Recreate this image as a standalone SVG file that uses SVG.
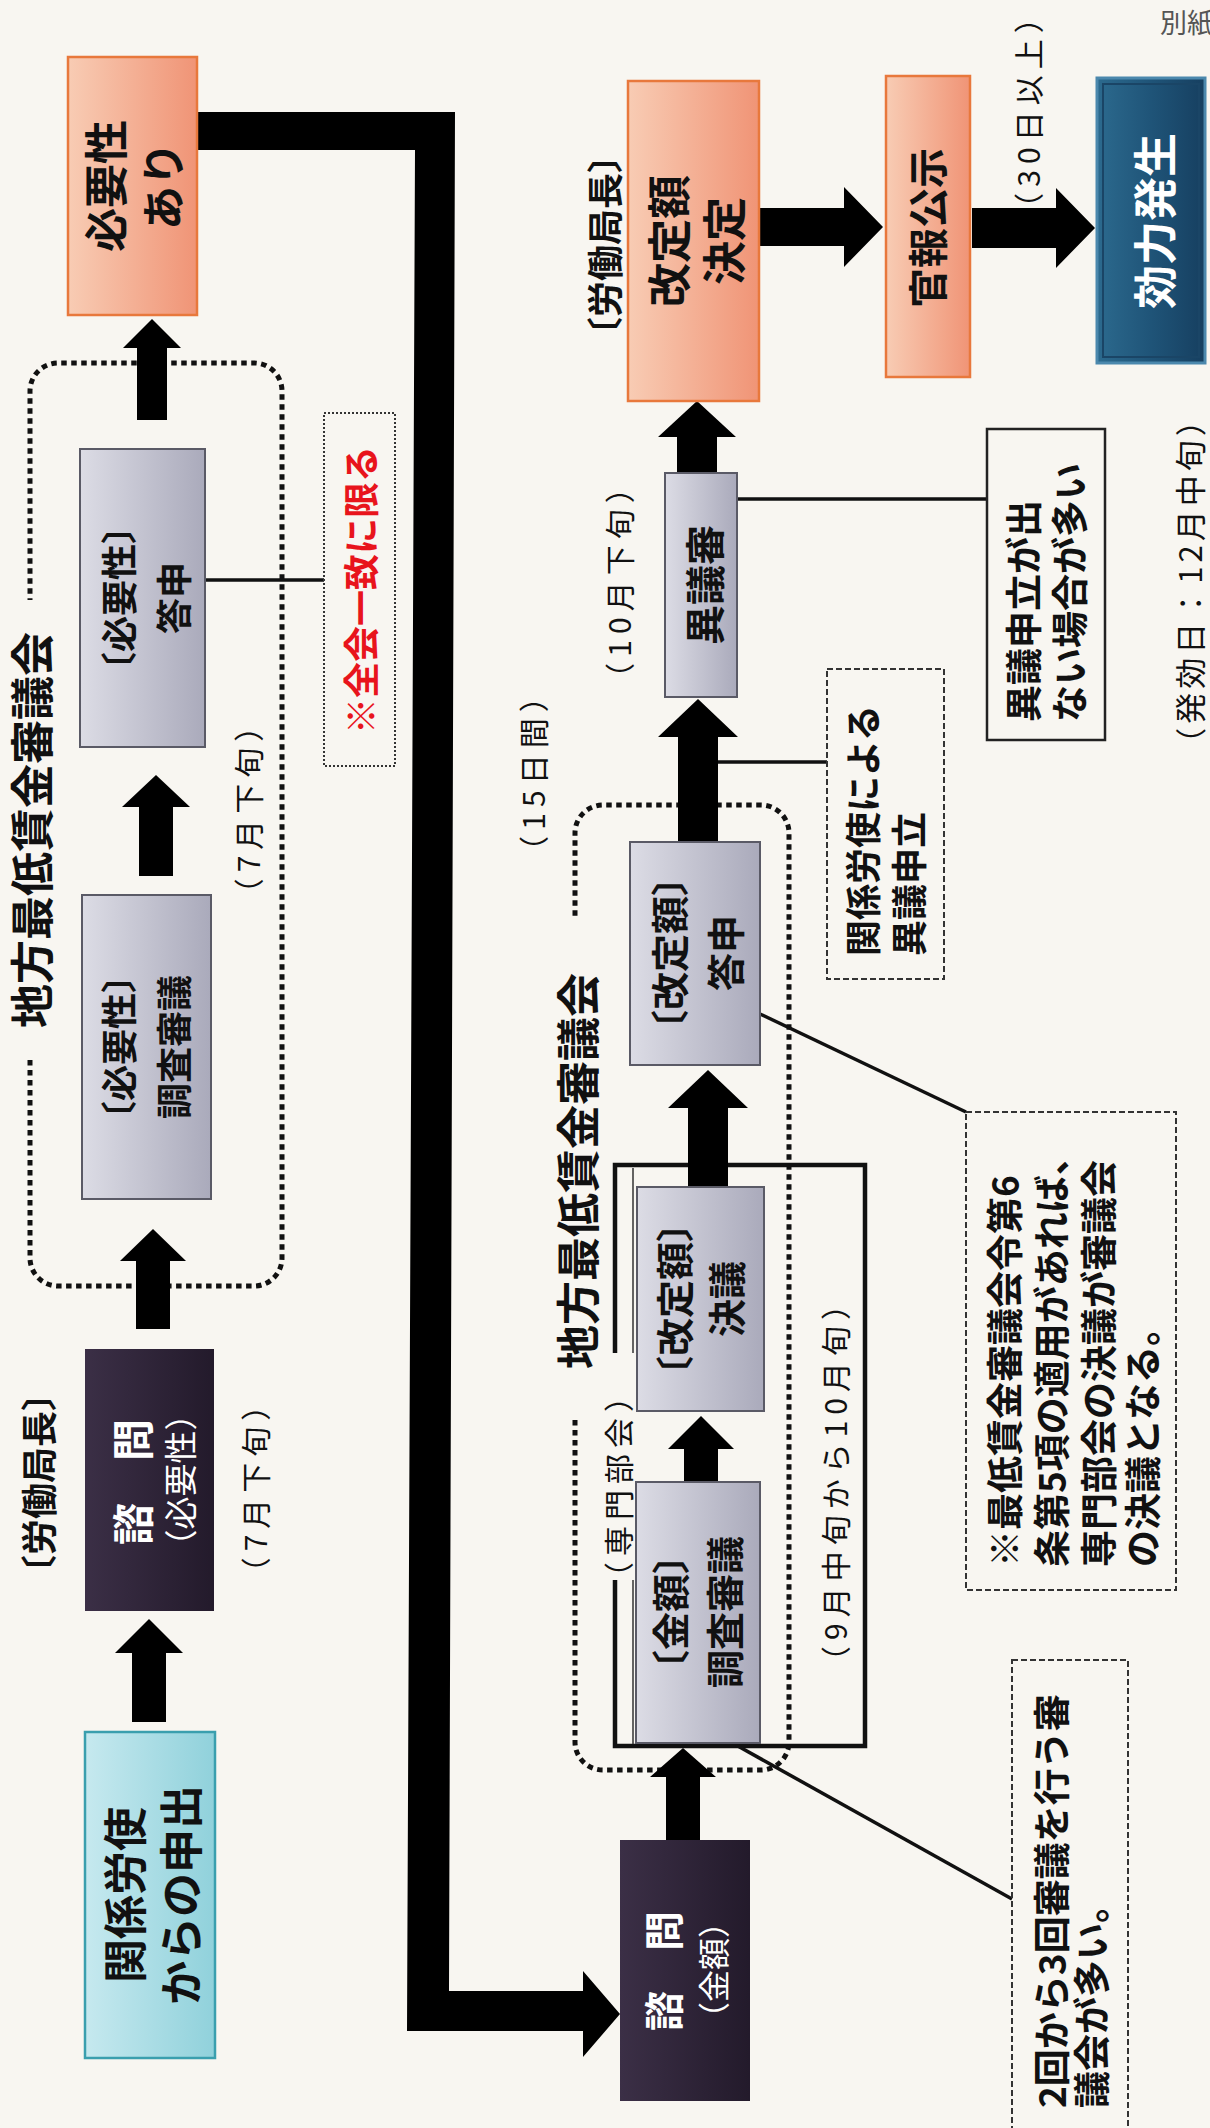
<svg xmlns="http://www.w3.org/2000/svg" width="1210" height="2128" viewBox="0 0 1210 2128">
<defs>
<linearGradient id="gOrange" x1="0" y1="0" x2="1" y2="0"><stop offset="0" stop-color="#f8ccb4"/><stop offset="1" stop-color="#f09476"/></linearGradient>
<linearGradient id="gGray" x1="0" y1="0" x2="1" y2="0"><stop offset="0" stop-color="#dcdce5"/><stop offset="1" stop-color="#aaaabb"/></linearGradient>
<linearGradient id="gPurple" x1="0" y1="0" x2="1" y2="0"><stop offset="0" stop-color="#3b2f46"/><stop offset="1" stop-color="#231a2b"/></linearGradient>
<linearGradient id="gCyan" x1="0" y1="0" x2="1" y2="0"><stop offset="0" stop-color="#c6e9ef"/><stop offset="1" stop-color="#90d1db"/></linearGradient>
<linearGradient id="gBlue" x1="0" y1="0" x2="1" y2="0"><stop offset="0" stop-color="#2c6a8e"/><stop offset="0.5" stop-color="#1f5478"/><stop offset="1" stop-color="#163f60"/></linearGradient>
</defs>
<style>
text{font-family:"Noto Sans CJK JP","Noto Sans CJK SC",sans-serif;fill:#111}
.c{text-anchor:middle;dominant-baseline:central}
.s{text-anchor:start;dominant-baseline:central}
.b{font-weight:bold}
.lab{font-size:44px;font-weight:bold}
.mid{font-size:38px;font-weight:bold}
.sm{font-size:30px;letter-spacing:6px}
.w{fill:#fff}
.orange{fill:url(#gOrange);stroke:#e8783c;stroke-width:2.5}
.gray{fill:url(#gGray);stroke:#5a5a66;stroke-width:2}
.purple{fill:url(#gPurple)}
.dots{fill:none;stroke:#111;stroke-width:5;stroke-dasharray:5.5 4.5}
.dash{fill:none;stroke:#333;stroke-width:2;stroke-dasharray:6 3}
.fine{fill:none;stroke:#333;stroke-width:2;stroke-dasharray:2 2}
.ln{fill:none;stroke:#111;stroke-width:3.5}
.arr{fill:#000}
</style>
<rect x="0" y="0" width="1210" height="2128" fill="#f8f6f1"/>

<g id="groups">
<path class="dots" d="M30,1060 V1258 A28,28 0 0 0 58,1286 H254 A28,28 0 0 0 282,1258 V391 A28,28 0 0 0 254,363 H58 A28,28 0 0 0 30,391 V600"/>
<text class="c" style="font-size:44px;font-weight:bold" transform="translate(30,830) rotate(-90)">地方最低賃金審議会</text>
<path class="dots" d="M575,1420 V1742 A28,28 0 0 0 603,1770 H761 A28,28 0 0 0 789,1742 V833 A28,28 0 0 0 761,805 H603 A28,28 0 0 0 575,833 V917"/>
<text class="c" style="font-size:44px;font-weight:bold" transform="translate(576,1171) rotate(-90)">地方最低賃金審議会</text>
<path fill="none" stroke="#111" stroke-width="4.5" d="M615,1353 V1165 H865 V1746 H615 V1580"/>
<path fill="none" stroke="#333" stroke-width="1.5" d="M633,1353 V1168 M633,1580 V1744"/>
<text class="c sm" transform="translate(617,1484) rotate(-90)">（専門部会）</text>
</g>

<g id="connectors">
<polygon class="arr" points="197,112 455,112 449,1991 583,1991 583,1971 620,2014 583,2057 583,2031 407,2031 415,150 197,150"/>
<polygon class="arr" points="132,1722 132,1653 115,1653 149,1619 183,1653 166,1653 166,1722"/>
<polygon class="arr" points="136,1329 136,1261 120,1261 153,1229 186,1261 170,1261 170,1329"/>
<polygon class="arr" points="139,876 139,807 122,807 156,775 190,807 173,807 173,876"/>
<polygon class="arr" points="137,420 137,348 123,348 152,319 181,348 167,348 167,420"/>
<polygon class="arr" points="666,1840 666,1777 650,1777 683,1748 716,1777 700,1777 700,1840"/>
<polygon class="arr" points="684,1483 684,1449 668,1449 701,1416 734,1449 718,1449 718,1483"/>
<polygon class="arr" points="688,1187 688,1108 668,1108 708,1070 748,1108 728,1108 728,1187"/>
<polygon class="arr" points="678,842 678,737 658,737 698,699 738,737 718,737 718,842"/>
<polygon class="arr" points="677,474 677,437 658,437 697,401 736,437 717,437 717,474"/>
<polygon class="arr" points="759,208 844,208 844,187 883,227 844,267 844,246 759,246"/>
<polygon class="arr" points="972,208 1056,208 1056,188 1095,228 1056,268 1056,248 972,248"/>
<line class="ln" x1="205" y1="580" x2="324" y2="580"/>
<line class="ln" x1="718" y1="762" x2="827" y2="762"/>
<line class="ln" x1="737" y1="499" x2="987" y2="499"/>
<line class="ln" x1="758" y1="1013" x2="966" y2="1112"/>
<line class="ln" x1="736" y1="1745" x2="1012" y2="1899"/>
</g>

<g id="n-roudou1"><text class="c b" style="font-size:36px" transform="translate(37,1483) rotate(-90)">〔労働局長〕</text></g>

<g id="n-moushide">
<rect x="85" y="1732" width="130" height="326" fill="url(#gCyan)" stroke="#3a9fae" stroke-width="2.5"/>
<text class="c lab" transform="translate(123,1895) rotate(-90)">関係労使</text>
<text class="c lab" transform="translate(179,1895) rotate(-90)">からの申出</text>
</g>

<g id="n-shimon1">
<rect class="purple" x="85" y="1349" width="129" height="262"/>
<text class="c w" style="font-size:42px;font-weight:bold" transform="translate(130,1482) rotate(-90)">諮　問</text>
<text class="c w" style="font-size:33px" transform="translate(179,1480) rotate(-90)">（必要性）</text>
</g>
<g id="t-jul1"><text class="c sm" transform="translate(254,1486) rotate(-90)">（7月下旬）</text></g>

<g id="n-chousa1">
<rect class="gray" x="82" y="895" width="129" height="304"/>
<text class="c b" style="font-size:36px" transform="translate(117,1047) rotate(-90)">〔必要性〕</text>
<text class="c b" style="font-size:36px" transform="translate(172,1047) rotate(-90)">調査審議</text>
</g>
<g id="t-jul2"><text class="c sm" transform="translate(247,807) rotate(-90)">（7月下旬）</text></g>

<g id="n-toushin1">
<rect class="gray" x="80" y="449" width="125" height="298"/>
<text class="c b" style="font-size:36px" transform="translate(117,598) rotate(-90)">〔必要性〕</text>
<text class="c b" style="font-size:36px" transform="translate(172,598) rotate(-90)">答申</text>
</g>

<g id="n-zenkai">
<rect class="fine" x="324" y="413" width="71" height="353"/>
<text class="c b" style="font-size:36px;fill:#e8141c" transform="translate(359,590) rotate(-90)">※全会一致に限る</text>
</g>

<g id="n-hitsuyou">
<rect class="orange" x="68" y="57" width="129" height="258"/>
<text class="c lab" transform="translate(104,186) rotate(-90)">必要性</text>
<text class="c lab" transform="translate(161,186) rotate(-90)">あり</text>
</g>

<g id="n-shimon2">
<rect class="purple" x="620" y="1840" width="130" height="261"/>
<text class="c w" style="font-size:40px;font-weight:bold" transform="translate(662,1971) rotate(-90)">諮　問</text>
<text class="c w" style="font-size:32px" transform="translate(712,1970) rotate(-90)">（金額）</text>
</g>

<g id="n-chousa2">
<rect class="gray" x="636" y="1482" width="124" height="261"/>
<text class="c mid" transform="translate(668,1612) rotate(-90)">〔金額〕</text>
<text class="c mid" transform="translate(722,1612) rotate(-90)">調査審議</text>
</g>
<g id="t-sep"><text class="c sm" transform="translate(834,1480) rotate(-90)">（9月中旬から10月旬）</text></g>

<g id="n-ketsugi">
<rect class="gray" x="637" y="1187" width="127" height="224"/>
<text class="c mid" transform="translate(672,1299) rotate(-90)">〔改定額〕</text>
<text class="c mid" transform="translate(724,1299) rotate(-90)">決議</text>
</g>

<g id="n-toushin2">
<rect class="gray" x="630" y="842" width="130" height="223"/>
<text class="c mid" transform="translate(667,953) rotate(-90)">〔改定額〕</text>
<text class="c mid" transform="translate(723,953) rotate(-90)">答申</text>
</g>
<g id="t-15"><text class="c sm" transform="translate(532,771) rotate(-90)">（15日間）</text></g>

<g id="n-igimoushitate">
<rect class="dash" x="827" y="669" width="117" height="310"/>
<text class="s b" style="font-size:36px" transform="translate(861,956) rotate(-90)">関係労使による</text>
<text class="s b" style="font-size:36px" transform="translate(907,956) rotate(-90)">異議申立</text>
</g>

<g id="n-igishin">
<rect class="gray" x="665" y="473" width="72" height="224"/>
<text class="c b" style="font-size:40px" transform="translate(703,585) rotate(-90)">異議審</text>
</g>
<g id="t-oct"><text class="c sm" transform="translate(618,580) rotate(-90)">（10月下旬）</text></g>

<g id="n-note-igi">
<rect x="987" y="429" width="118" height="311" fill="none" stroke="#222" stroke-width="2.5"/>
<text class="s b" style="font-size:37px" transform="translate(1022,722) rotate(-90)">異議申立が出</text>
<text class="s b" style="font-size:37px" transform="translate(1068,722) rotate(-90)">ない場合が多い</text>
</g>

<g id="n-roudou2"><text class="c b" style="font-size:36px" transform="translate(603,245) rotate(-90)">〔労働局長〕</text></g>

<g id="n-kettei">
<rect class="orange" x="628" y="81" width="131" height="320"/>
<text class="c lab" transform="translate(667,241) rotate(-90)">改定額</text>
<text class="c lab" transform="translate(722,241) rotate(-90)">決定</text>
</g>

<g id="n-kanpou">
<rect class="orange" x="886" y="76" width="84" height="301"/>
<text class="c b" style="font-size:40px" transform="translate(926,228) rotate(-90)">官報公示</text>
</g>
<g id="t-30"><text class="c sm" transform="translate(1027,110) rotate(-90)">（30日以上）</text></g>

<g id="n-kouryoku">
<rect x="1097" y="78" width="108" height="285" fill="url(#gBlue)" stroke="#4b88ad" stroke-width="3"/>
<rect x="1103" y="84" width="96" height="273" fill="none" stroke="#1a4566" stroke-width="2"/>
<text class="c lab w" transform="translate(1153,221) rotate(-90)">効力発生</text>
</g>
<g id="t-hakkou"><text class="c" style="font-size:31px;letter-spacing:4px" transform="translate(1188,580) rotate(-90)">（発効日：12月中旬）</text></g>

<g id="n-note-rei">
<rect class="dash" x="966" y="1112" width="210" height="478"/>
<text class="s b" style="font-size:37px" transform="translate(1003,1567) rotate(-90)">※最低賃金審議会令第6</text>
<text class="s b" style="font-size:37px" transform="translate(1050,1567) rotate(-90)">条第5項の適用があれば、</text>
<text class="s b" style="font-size:37px" transform="translate(1097,1567) rotate(-90)">専門部会の決議が審議会</text>
<text class="s b" style="font-size:37px" transform="translate(1141,1567) rotate(-90)">の決議となる。</text>
</g>

<g id="n-note-kaisuu">
<rect class="dash" x="1012" y="1660" width="116" height="480"/>
<text class="s b" style="font-size:37px" transform="translate(1050,2108) rotate(-90)">2回から3回審議を行う審</text>
<text class="s b" style="font-size:37px" transform="translate(1090,2108) rotate(-90)">議会が多い。</text>
</g>

<g id="t-besshi"><text x="1160" y="33" style="font-size:27px;fill:#555">別紙</text></g>
</svg>
